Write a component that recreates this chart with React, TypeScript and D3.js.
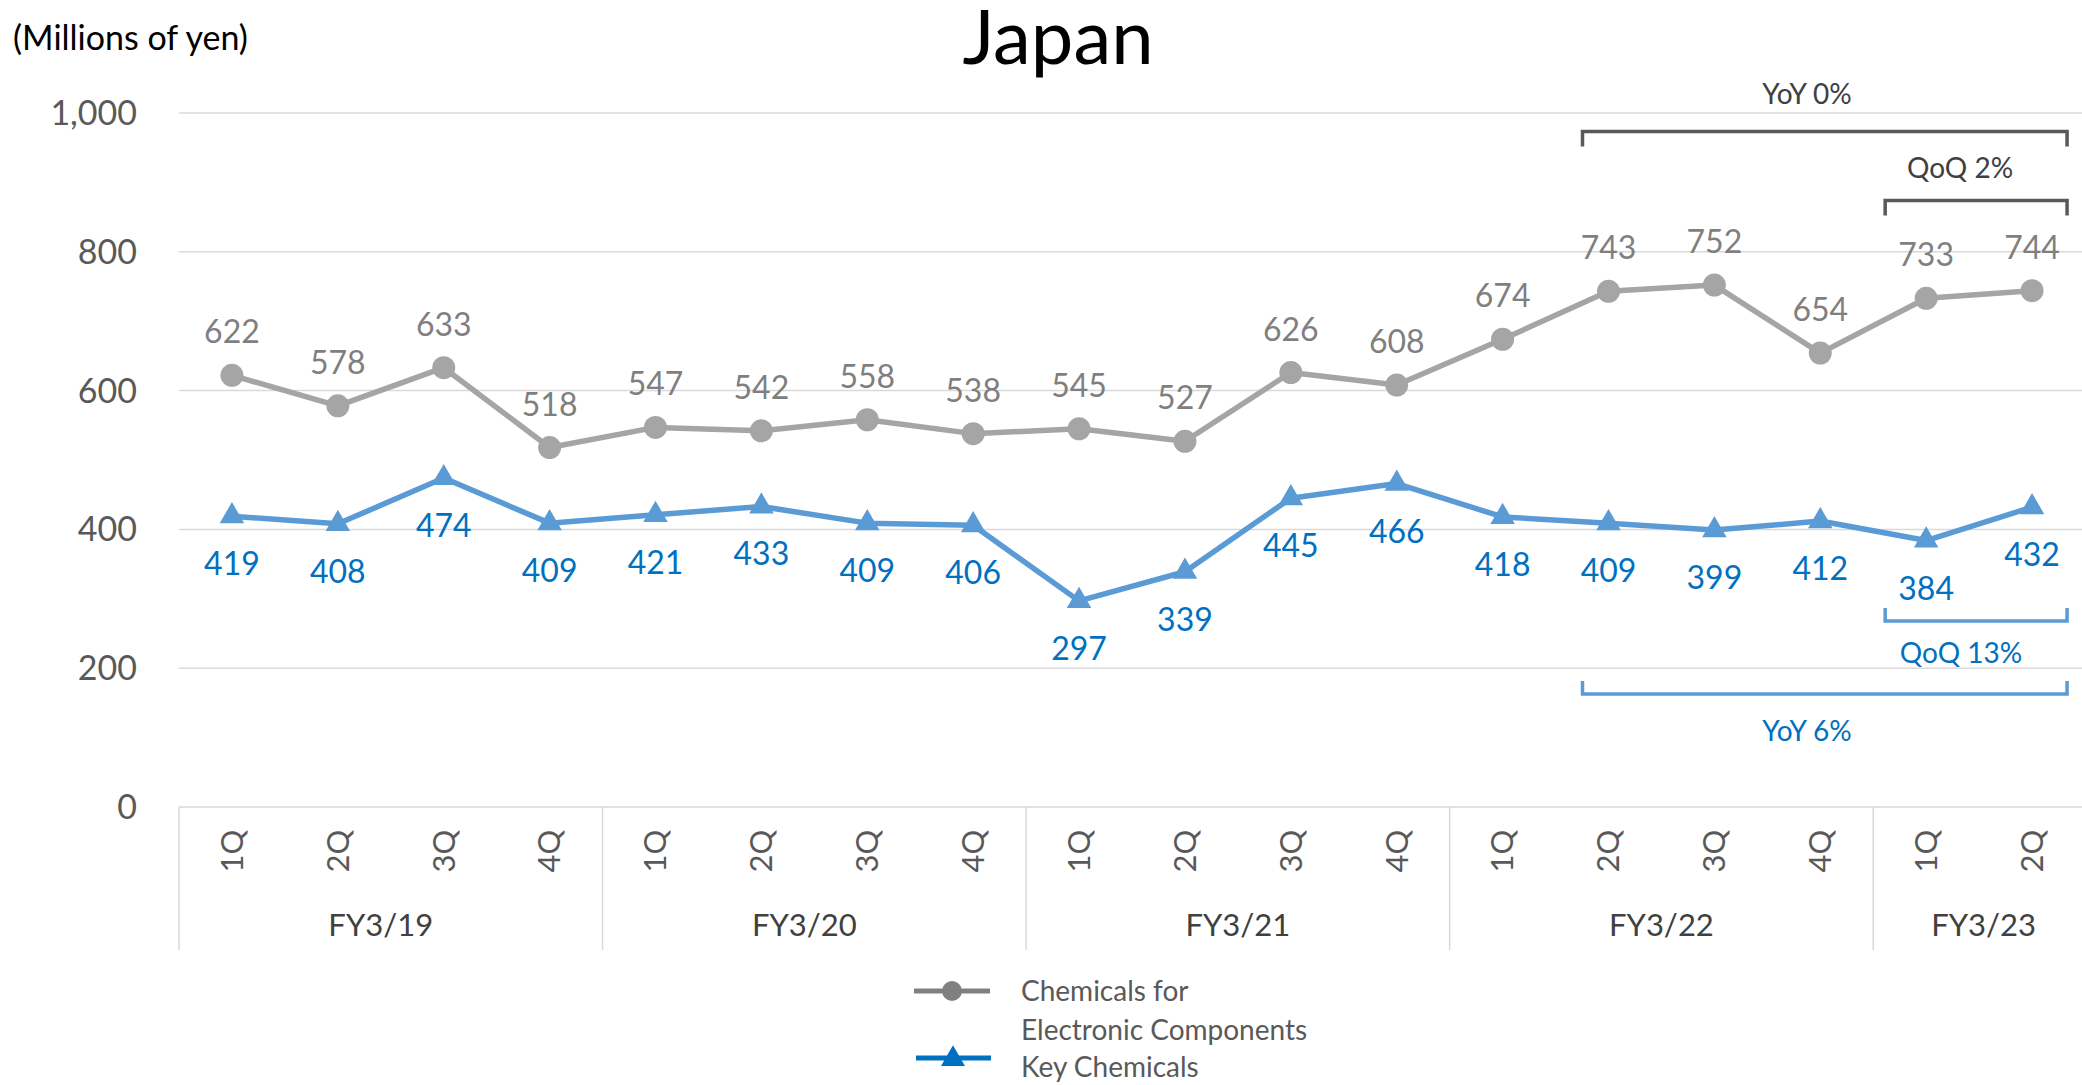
import React from "react";
import * as d3 from "d3";

const quarters = ["1Q","2Q","3Q","4Q","1Q","2Q","3Q","4Q","1Q","2Q","3Q","4Q","1Q","2Q","3Q","4Q","1Q","2Q"];
const fiscalYears = ["FY3/19","FY3/20","FY3/21","FY3/22","FY3/23"];
const fiscalYearSpans = [4,4,4,4,2];
const electronicChem = [622,578,633,518,547,542,558,538,545,527,626,608,674,743,752,654,733,744];
const keyChem = [419,408,474,409,421,433,409,406,297,339,445,466,418,409,399,412,384,432];
const yTicks = [0,200,400,600,800,1000];
const seriesNames = ["Chemicals for", "Electronic Components", "Key Chemicals"];

const W = 2082, H = 1085;
const FONT = "Lato, 'Noto Sans', sans-serif";

export default function App() {
  const x = d3.scaleBand<number>().domain(d3.range(quarters.length)).range([179, 2085]).padding(0);
  const y = d3.scaleLinear().domain([0, 1000]).range([807, 113]);
  const cx = (i: number) => (x(i) as number) + x.bandwidth() / 2;
  const line = d3.line<number>().x((_, i) => cx(i)).y(d => y(d));
  const tri = d3.symbol().type(d3.symbolTriangle).size(260)();
  const triLegend = d3.symbol().type(d3.symbolTriangle).size(250)();

  const bounds: number[] = [0];
  fiscalYearSpans.forEach(s => bounds.push(bounds[bounds.length - 1] + s));

  const gray = "#A5A5A5";
  const grayText = "#7F7F7F";
  const blue = "#5B9BD5";
  const blueText = "#0070C0";
  const axisText = "#595959";

  const bracket = (i0: number, i1: number, yy: number, down: boolean, padL: number) => {
    const xa = cx(i0) - padL, xb = cx(i1) + 35;
    const t = down ? 15 : -13;
    return `M${xa},${yy + t}V${yy}H${xb}V${yy + t}`;
  };

  return (
    <svg width={W} height={H} style={{ position: "absolute", left: 0, top: 0, background: "#fff" }} fontFamily={FONT}>
      <text x={13} y={50} fontSize={34} fill="#000">(Millions of yen)</text>
      <text x={1058} y={64} fontSize={76} fill="#000" textAnchor="middle">Japan</text>

      {yTicks.map(t => (
        <g key={t}>
          {t > 0 && <line x1={179} x2={W} y1={y(t)} y2={y(t)} stroke="#D9D9D9" strokeWidth={1.5} />}
          <text x={137} y={y(t)} dy="0.35em" textAnchor="end" fontSize={34} fill={axisText}>{d3.format(",")(t)}</text>
        </g>
      ))}
      <line x1={179} x2={W} y1={y(0)} y2={y(0)} stroke="#D9D9D9" strokeWidth={1.5} />
      {bounds.slice(0, -1).map((b, k) => (
        <line key={k} x1={x(b) as number} x2={x(b) as number} y1={y(0)} y2={950} stroke="#D9D9D9" strokeWidth={1.5} />
      ))}
      {quarters.map((q, i) => (
        <text key={i} transform={`translate(${cx(i)},851) rotate(-90)`} textAnchor="middle" dy="0.35em" fontSize={31} fill={axisText}>{q}</text>
      ))}
      {fiscalYears.map((fy, k) => {
        const mid = ((x(bounds[k]) as number) + (k === fiscalYears.length - 1 ? W + 12 : (x(bounds[k + 1]) as number))) / 2;
        return <text key={fy} x={mid - (k < 2 ? 10 : 0)} y={925} dy="0.35em" textAnchor="middle" fontSize={31} fill="#404040">{fy}</text>;
      })}

      <path d={line(electronicChem) as string} fill="none" stroke={gray} strokeWidth={5.5} strokeLinejoin="round" />
      <path d={line(keyChem) as string} fill="none" stroke={blue} strokeWidth={5.5} strokeLinejoin="round" />
      {electronicChem.map((v, i) => (
        <g key={"e" + i}>
          <circle cx={cx(i)} cy={y(v)} r={11.5} fill={gray} />
          <text x={cx(i)} y={y(v) - 32} textAnchor="middle" fontSize={32} fill={grayText}>{v}</text>
        </g>
      ))}
      {keyChem.map((v, i) => (
        <g key={"k" + i}>
          <path d={tri as string} transform={`translate(${cx(i)},${y(v)})`} fill={blue} />
          <text x={cx(i)} y={y(v) + 59} textAnchor="middle" fontSize={32} fill={blueText}>{v}</text>
        </g>
      ))}

      <path d={bracket(13, 17, 131.5, true, 26)} fill="none" stroke="#595959" strokeWidth={3.5} />
      <text x={1807} y={104} textAnchor="middle" fontSize={28} fill="#404040">YoY 0%</text>
      <path d={bracket(16, 17, 200.5, true, 41)} fill="none" stroke="#595959" strokeWidth={3.5} />
      <text x={1960} y={178} textAnchor="middle" fontSize={28} fill="#404040">QoQ 2%</text>
      <path d={bracket(16, 17, 621, false, 41)} fill="none" stroke={blue} strokeWidth={3.5} />
      <text x={1961} y={663} textAnchor="middle" fontSize={28} fill={blueText}>QoQ 13%</text>
      <path d={bracket(13, 17, 694, false, 26)} fill="none" stroke={blue} strokeWidth={3.5} />
      <text x={1807} y={741} textAnchor="middle" fontSize={28} fill={blueText}>YoY 6%</text>

      <line x1={914} x2={990} y1={991} y2={991} stroke="#808080" strokeWidth={5} />
      <circle cx={952} cy={991} r={10} fill="#808080" />
      <text x={1021} y={991} dy="0.35em" fontSize={28} fill={axisText}>{seriesNames[0]}</text>
      <text x={1021} y={1030} dy="0.35em" fontSize={28} fill={axisText}>{seriesNames[1]}</text>
      <line x1={916} x2={991} y1={1058} y2={1058} stroke="#0070C0" strokeWidth={5} />
      <path d={triLegend as string} transform="translate(953,1059)" fill="#0070C0" />
      <text x={1021} y={1067} dy="0.35em" fontSize={28} fill={axisText}>{seriesNames[2]}</text>
    </svg>
  );
}
